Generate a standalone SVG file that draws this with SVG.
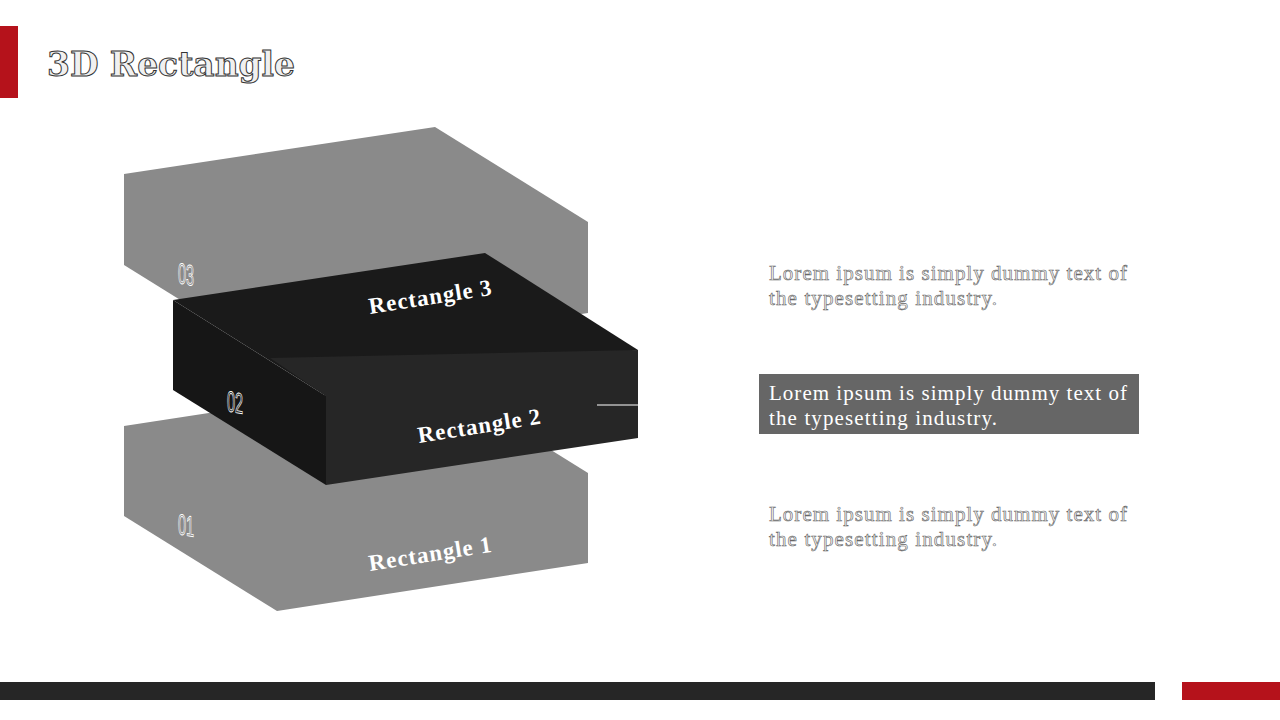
<svg xmlns="http://www.w3.org/2000/svg" width="1280" height="720" viewBox="0 0 1280 720">
<style>
.grey{fill:#8a8a8a}
.num{font-family:"Liberation Sans",sans-serif;font-size:29px;fill:none;stroke:#fff;stroke-width:0.9}
.lab{font-family:"Liberation Serif",serif;font-weight:bold;font-size:23px;fill:#fff}
.out{font-family:"Liberation Serif",serif;font-size:21px;fill:#f4f4f4;stroke:#666;stroke-width:0.6}
.in{font-family:"Liberation Serif",serif;font-size:21px;fill:#fff}
</style>
<rect width="1280" height="720" fill="#fff"/>
<rect x="0" y="26" width="18" height="72" fill="#b5121b"/>
<text x="47" y="76" font-family="DejaVu Serif,serif" font-weight="bold" font-size="34" fill="#f0f0f0" stroke="#333" stroke-width="1" textLength="248" lengthAdjust="spacingAndGlyphs">3D Rectangle</text>
<g id="rect1">
<polygon class="grey" points="124,426 435,378 588,473 588,563 277,611 124,516"/>
<text class="num" transform="translate(178,534) skewY(10) scale(0.5,1)">01</text>
<text class="lab" transform="translate(370,571) rotate(-9)" textLength="124">Rectangle 1</text>
</g>
<g id="rect3">
<polygon class="grey" points="124,174 435,127 588,222 588,313 277,360 124,265"/>
<text class="num" transform="translate(178,283) skewY(10) scale(0.5,1)">03</text>
</g>
<g id="rect2">
<polygon points="173,300 485,253 638,350 326,396" fill="#1a1a1a"/>
<polygon points="173,300 326,396 326,485 173,390" fill="#161616"/>
<polygon points="270,358 638,350 638,438 326,485 326,396" fill="#262626"/>
<text class="num" transform="translate(227,411) skewY(10) scale(0.5,1)">02</text>
<text class="lab" transform="translate(370,314) rotate(-9)" textLength="124">Rectangle 3</text>
<text class="lab" transform="translate(419,443) rotate(-9)" textLength="124">Rectangle 2</text>
</g>
<g id="connectors">
<line x1="597" y1="405" x2="638" y2="405" stroke="#fff" stroke-width="1"/>
</g>
<g id="text1">
<text class="out" x="769" y="280" textLength="358">Lorem ipsum is simply dummy text of</text>
<text class="out" x="769" y="305" textLength="228">the typesetting  industry.</text>
</g>
<g id="text2">
<rect x="759" y="374" width="380" height="60" fill="#666"/>
<text class="in" x="769" y="400" textLength="358">Lorem ipsum is simply dummy text of</text>
<text class="in" x="769" y="425" textLength="228">the typesetting  industry.</text>
</g>
<g id="text3">
<text class="out" x="769" y="521" textLength="358">Lorem ipsum is simply dummy text of</text>
<text class="out" x="769" y="546" textLength="228">the typesetting  industry.</text>
</g>
<rect x="0" y="682" width="1155" height="18" fill="#262626"/>
<rect x="1182" y="682" width="98" height="18" fill="#b5121b"/>
</svg>
